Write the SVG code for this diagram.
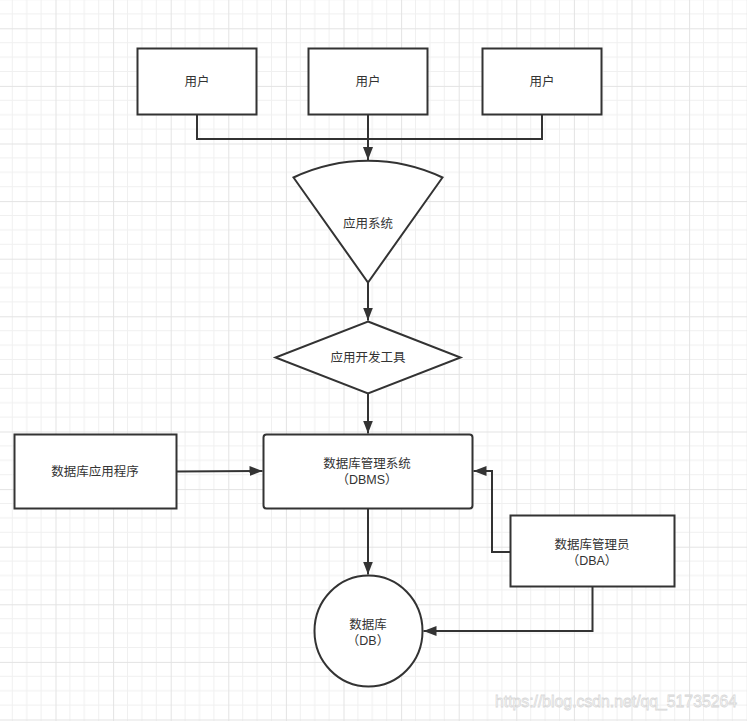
<svg xmlns="http://www.w3.org/2000/svg" width="747" height="721" viewBox="0 0 747 721">
<defs>
<style>
.shape{fill:#fff;stroke:#333;stroke-width:2}
.conn{fill:none;stroke:#333;stroke-width:2}
.lbl{font-family:"Liberation Sans","Noto Sans CJK SC",sans-serif;font-size:12.5px;fill:#333;text-anchor:middle}
</style>
<pattern id="grid" patternUnits="userSpaceOnUse" x="-2.1" y="-29.3" width="57.6" height="57.6">
<path d="M14.4 0V57.6M28.8 0V57.6M43.2 0V57.6M0 14.4H57.6M0 28.8H57.6M0 43.2H57.6" stroke="#f0f0f0" stroke-width="1" fill="none"/>
<path d="M0.5 0V57.6M0 0.5H57.6" stroke="#e3e3e3" stroke-width="1" fill="none"/>
</pattern>
<marker id="arr" markerUnits="userSpaceOnUse" markerWidth="14" markerHeight="12" viewBox="0 0 14 12" refX="13" refY="6" orient="auto">
<path d="M0 1L13 6L0 11z" fill="#333"/>
</marker>
</defs>
<rect width="747" height="721" fill="#fff"/>
<rect width="747" height="721" fill="url(#grid)"/>

<g id="connectors">
<path class="conn" d="M197 114V139H542V114"/>
<path class="conn" d="M368 114V160" marker-end="url(#arr)"/>
<path class="conn" d="M368 283V320.5" marker-end="url(#arr)"/>
<path class="conn" d="M368 394V433.5" marker-end="url(#arr)"/>
<path class="conn" d="M177 471.5L262.5 471" marker-end="url(#arr)"/>
<path class="conn" d="M510 552H492V471H473.5" marker-end="url(#arr)"/>
<path class="conn" d="M368 509V574.5" marker-end="url(#arr)"/>
<path class="conn" d="M592.5 587V631H423.5" marker-end="url(#arr)"/>
</g>

<g id="user1"><rect class="shape" x="137.5" y="48.5" width="119" height="66"/><text class="lbl" x="197" y="86">用户</text></g>
<g id="user2"><rect class="shape" x="308.5" y="48.5" width="119" height="66"/><text class="lbl" x="368" y="86">用户</text></g>
<g id="user3"><rect class="shape" x="482.5" y="48.5" width="119" height="66"/><text class="lbl" x="542" y="86">用户</text></g>

<g id="appsystem"><path class="shape" d="M293.5 177.5A174 174 0 0 1 442.5 177.5L368 282.5Z"/><text class="lbl" x="368" y="228">应用系统</text></g>

<g id="devtool"><path class="shape" d="M368 321.5L460.5 357.5L368 393.5L275.5 357.5Z"/><text class="lbl" x="368" y="362">应用开发工具</text></g>

<g id="dbms"><rect class="shape" x="263.5" y="434.5" width="209" height="74" rx="3"/><text class="lbl" x="367" y="468">数据库管理系统</text><text class="lbl" x="367" y="484">（DBMS）</text></g>

<g id="dbapp"><rect class="shape" x="14.5" y="434.5" width="162" height="74"/><text class="lbl" x="95" y="476">数据库应用程序</text></g>

<g id="dba"><rect class="shape" x="510.5" y="515.5" width="164" height="71"/><text class="lbl" x="592" y="549">数据库管理员</text><text class="lbl" x="592" y="565">（DBA）</text></g>

<g id="db"><ellipse class="shape" cx="368.5" cy="631" rx="54" ry="55.5"/><text class="lbl" x="368" y="629">数据库</text><text class="lbl" x="368" y="645">（DB）</text></g>

<text x="495" y="707" font-family="Liberation Sans,sans-serif" font-size="17" fill="#fff" stroke="#d8d8d8" stroke-width="0.8" textLength="242" lengthAdjust="spacingAndGlyphs">https://blog.csdn.net/qq_51735264</text>
</svg>
